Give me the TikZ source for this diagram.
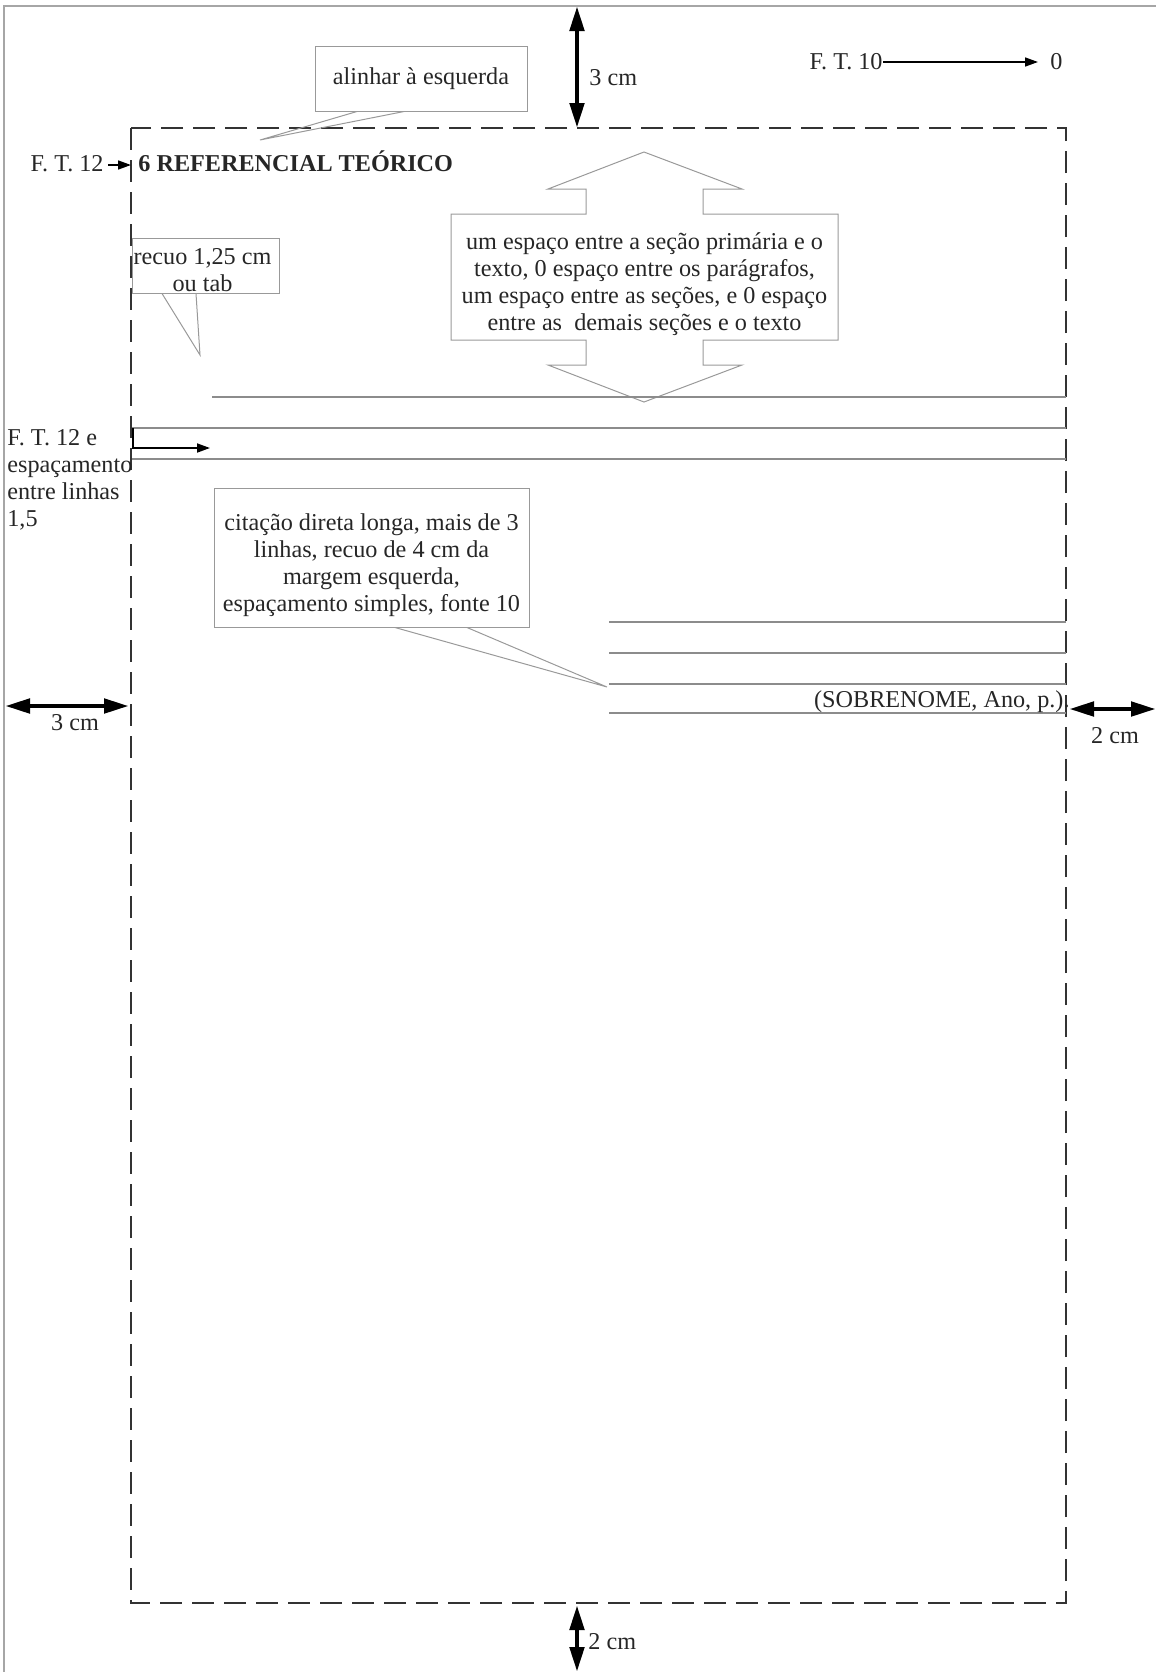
\documentclass[tikz,border=0pt]{standalone}
\usepackage{fontspec}
\setmainfont{Liberation Serif}
\usetikzlibrary{positioning}
\usetikzlibrary{arrows.meta}
\usetikzlibrary{calc}

\begin{document}
\begin{tikzpicture}[x=0.5pt, y=-0.5pt,
every node/.style={inner sep=0pt, text=black!85, font=\fontsize{12.1}{13.5}\selectfont},
notebox/.style={draw=black!40, line width=0.5pt},
notetext/.style={align=center},
tailline/.style={draw=black!40, line width=0.5pt},
textline/.style={draw=black!45, line width=0.55pt},
marginline/.style={draw=black!80, line width=1.3pt, dash pattern=on 11pt off 5pt},
dimarrow/.style={draw=black, line width=2.4pt, {Triangle[length=12.5pt,width=7pt]}-{Triangle[length=12.5pt,width=7pt]}},
smallarrow/.style={draw=black, line width=0.8pt, -{Triangle[length=6.5pt,width=4.5pt]}}]
\useasboundingbox (0,0) rectangle (1156,1672);

\draw[black!35, line width=1pt] (4,1672) -- (4,6) -- (1156,6);

\coordinate (mtl) at (131,128);
\coordinate (mbr) at (1066,1603);
\draw[marginline] (mtl) rectangle (mbr);

\coordinate (topedge) at (577,6);
\coordinate (topmargin) at (577,128);
\coordinate (leftedge) at (5,706);
\coordinate (leftmargin) at (129,706);
\coordinate (rightmargin) at (1069,709);
\coordinate (rightedge) at (1156,709);
\coordinate (bottommargin) at (577,1605);
\coordinate (bottomedge) at (577,1672);
\draw[dimarrow] (topedge) -- (topmargin);
\draw[dimarrow] (leftedge) -- (leftmargin);
\draw[dimarrow] (rightmargin) -- (rightedge);
\draw[dimarrow] (bottommargin) -- (bottomedge);
\node[anchor=base west] (topcm) at (589,85) {3 cm};
\node[anchor=base] (leftcm) at (75,730) {3 cm};
\node[anchor=base] (rightcm) at (1115,743) {2 cm};
\node[anchor=base west] (bottomcm) at (588,1649) {2 cm};

\node[anchor=base east] (ft10) at (883,69) {F. T. 10};
\node[anchor=base west] (zero) at (1050,69) {0};
\draw[smallarrow] (ft10.east |- 0,62) -- ([xshift=-6pt]zero.west |- 0,62);

\node[anchor=base east] (ft12) at (104,171) {F. T. 12};
\node[anchor=base west, font=\fontsize{12.1}{13.5}\selectfont\bfseries] (titulo) at (138,171) {6 REFERENCIAL TEÓRICO};
\draw[smallarrow] ([xshift=2pt]ft12.east |- 0,165) -- (mtl |- 0,165);

\node[notebox, minimum width=106pt, minimum height=32.5pt] (alinhar) at (421,78.5) {alinhar à esquerda};
\coordinate (alinharponta) at (260,140);
\draw[tailline] ($(alinhar.south)+(-64,0)$) -- (alinharponta) -- ($(alinhar.south)+(-17,0)$);

\node[notebox, minimum width=73.5pt, minimum height=27.5pt] (recuo) at (205.5,265.5) {};
\node[notetext] (recuotexto) at ([yshift=-2.5pt,xshift=-1.5pt]recuo.center) {recuo 1,25 cm\\ou tab};
\coordinate (recuoponta) at (200,355);
\draw[tailline] ($(recuo.south)+(-43.5,0)$) -- (recuoponta) -- ($(recuo.south)+(-9.5,0)$);

\draw[tailline] (451,214) -- (586,214) -- (586,189) -- (548,189) -- (644,152) -- (742,189)
  -- (703,189) -- (703,214) -- (838,214) -- (838,340) -- (703,340) -- (703,365) -- (742,365)
  -- (644,402) -- (548,365) -- (586,365) -- (586,340) -- (451,340) -- cycle;
\node[notetext] (espaco) at (644.5,284) {um espaço entre a seção primária e o\\texto, 0 espaço entre os parágrafos,\\um espaço entre as seções, e 0 espaço\\entre as\ \ demais seções e o texto};

\draw[textline] (212,397) -- (1066,397);
\draw[textline] (132,428) -- (1066,428);
\draw[textline] (132,459) -- (1066,459);
\draw[smallarrow, line width=0.9pt] (133,428) -- (133,448) -- (210,448);

\node[anchor=north west, align=left] (espacamento) at (7,429) {F. T. 12 e\\espaçamento\\entre linhas\\1,5};

\node[notebox, minimum width=157.5pt, minimum height=69.5pt] (citacao) at (371.5,557.5) {};
\node[notetext] (citacaotexto) at ([yshift=-4pt]citacao.center) {citação direta longa, mais de 3\\linhas, recuo de 4 cm da\\margem esquerda,\\espaçamento simples, fonte 10};
\coordinate (citacaoponta) at (607,687);
\draw[tailline] ($(citacao.south)+(23.5,0)$) -- (citacaoponta) -- ($(citacao.south)+(95.5,0)$);

\foreach \yy in {622,653,684,713}
  \draw[textline] (609,\yy) -- (1066,\yy);
\node[anchor=base east] (sobrenome) at (1070,707) {(SOBRENOME, Ano, p.).};
\end{tikzpicture}
\end{document}
